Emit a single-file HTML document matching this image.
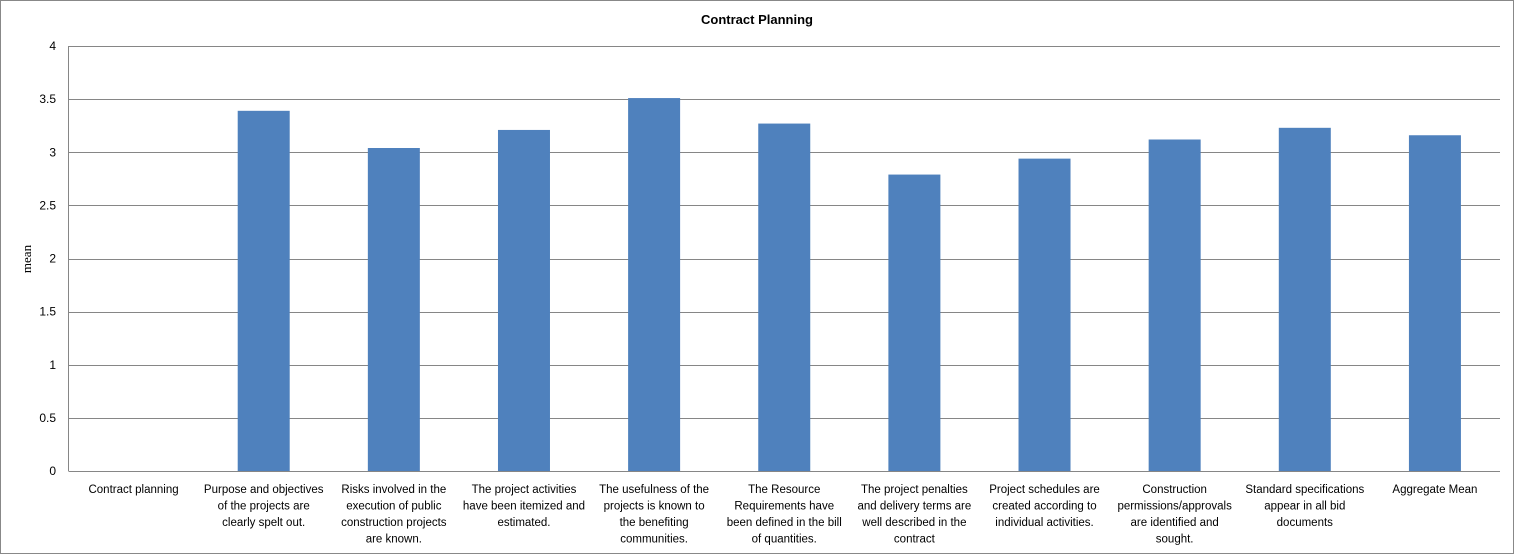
<!DOCTYPE html>
<html><head><meta charset="utf-8"><style>
body{margin:0;background:#fff;}
svg{display:block;font-family:"Liberation Sans",sans-serif;}
</style></head><body>
<svg id="chart" width="1514" height="554">
<rect x="0.5" y="0.5" width="1513" height="553" fill="#fff" stroke="#888"/>
<text x="757" y="24" text-anchor="middle" font-size="13" font-weight="bold">Contract Planning</text>
<text transform="translate(31,259) rotate(-90)" text-anchor="middle" font-size="13" font-family="Liberation Serif,serif">mean</text>
<g id="grid"></g><g id="bars"></g><g id="xlabels"></g>
</svg>
<script>
const categories=[["Contract planning"],["Purpose and objectives","of the projects are","clearly spelt out."],["Risks involved in the","execution of public","construction projects","are known."],["The project activities","have been itemized and","estimated."],["The usefulness of the","projects is known to","the benefiting","communities."],["The Resource","Requirements have","been defined in the bill","of quantities."],["The project penalties","and delivery terms are","well described in the","contract"],["Project schedules are","created according to","individual activities."],["Construction","permissions/approvals","are identified and","sought."],["Standard specifications","appear in all bid","documents"],["Aggregate Mean"]];
const values=[0,3.39,3.04,3.21,3.51,3.27,2.79,2.94,3.12,3.23,3.16];
const ticks=[0,0.5,1,1.5,2,2.5,3,3.5,4];
const NS="http://www.w3.org/2000/svg";
const L=68.5,R=1500,T=46,B=471,maxV=4;
const y=v=>B-(v/maxV)*(B-T);
const bw=(R-L)/categories.length;
const x=i=>L+bw*i+bw/2;
function mk(t,a){const e=document.createElementNS(NS,t);for(const k in a)e.setAttribute(k,a[k]);return e;}
const g=document.getElementById('grid');
ticks.forEach(t=>{
 const ln=mk('line',{x1:L,x2:R,y1:Math.round(y(t))+0.5,y2:Math.round(y(t))+0.5,stroke:'#868686'});
 
 
 g.appendChild(ln);
 const tx=mk('text',{x:56,y:y(t)+4,'text-anchor':'end','font-size':'12'});
 tx.textContent=String(t);
 
 
 g.appendChild(tx);
});
const ax=mk('line',{x1:L,x2:L,y1:T,y2:B,stroke:'#868686'});


g.appendChild(ax);
const bg=document.getElementById('bars');
values.forEach((v,i)=>{
 if(v<=0)return;
 const r=mk('rect',{x:x(i)-26,y:y(v),width:52,height:B-y(v),fill:'#4f81bd'});
 
 
 bg.appendChild(r);
});
const xl=document.getElementById('xlabels');
categories.forEach((lines,i)=>{
 const t=mk('text',{'text-anchor':'middle','font-size':'11.5'});
 
 
 lines.forEach((s,j)=>{const ts=mk('tspan',{x:x(i),y:493+j*16.5});ts.textContent=s;t.appendChild(ts);});
 xl.appendChild(t);
});
</script>
</body></html>
